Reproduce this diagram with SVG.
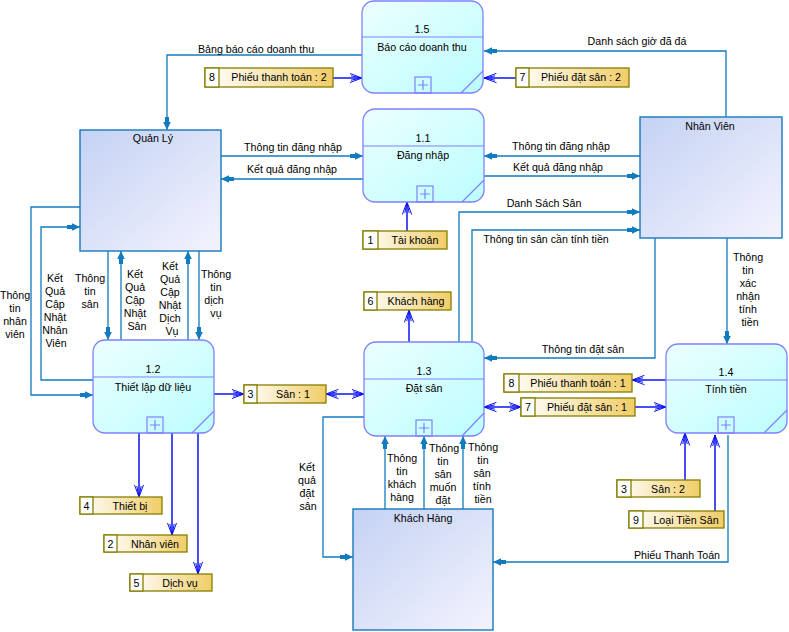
<svg xmlns="http://www.w3.org/2000/svg" width="789" height="632" viewBox="0 0 789 632">
<style>
text{font-family:"Liberation Sans",Arial,sans-serif;font-size:10.67px;fill:#000}
.c{text-anchor:middle}
.proc{fill:url(#pg);stroke:#8080ff;stroke-width:1.3}
.pl{stroke:#8080ff;stroke-width:1.2;fill:none}
.ent{fill:url(#eg);stroke:#1478bc;stroke-width:1.4}
.sto{fill:url(#sg);stroke:#857f00;stroke-width:1.3}
.num{fill:#fff;stroke:#857f00;stroke-width:1.3}
.f{fill:none;stroke:#127bbf;stroke-width:1.3;marker-end:url(#ah)}
.d{fill:none;stroke:#0a14f0;stroke-width:1.5;marker-end:url(#oa)}
.b{marker-start:url(#oa)}
</style>
<defs>
<linearGradient id="pg" x1="0" y1="0" x2="1" y2="1"><stop offset="0" stop-color="#ecffff"/><stop offset="1" stop-color="#bcfdfe"/></linearGradient>
<linearGradient id="eg" x1="0" y1="0" x2="1" y2="1"><stop offset="0" stop-color="#c4d2f4"/><stop offset="1" stop-color="#f3f3fd"/></linearGradient>
<linearGradient id="sg" x1="0" y1="0" x2="1" y2="0"><stop offset="0" stop-color="#ffffff"/><stop offset="1" stop-color="#f1cd68"/></linearGradient>
<marker id="ah" markerUnits="userSpaceOnUse" viewBox="0 0 14 10" markerWidth="14" markerHeight="10" refX="14" refY="5" orient="auto">
<path d="M6,1.2 L14,5 L6,8.8 Z M1,3 H7 V7 H1 Z" fill="#127bbf"/>
</marker>
<marker id="oa" markerUnits="userSpaceOnUse" viewBox="0 0 13 11" markerWidth="13" markerHeight="11" refX="12.5" refY="5.5" orient="auto-start-reverse">
<path d="M0,0.8 L12.5,5.5 L0,10.2 M1.5,3.3 L12.5,5.5 L1.5,7.7" fill="none" stroke="#0a14f0" stroke-width="1"/>
</marker>
</defs>

<g id="connectors">
<g id="c-bangbaocao"><path class="f" d="M362,55 H167 V130"/><text class="c" x="256" y="53">Bảng báo cáo doanh thu</text></g>
<g id="c-danhsachgio"><path class="f" d="M726,117 V51 H484"/><text class="c" x="637" y="45">Danh sách giờ đã đá</text></g>
<g id="c-ttdn-ql"><path class="f" d="M221,156 H363"/><text class="c" x="293" y="151">Thông tin đăng nhập</text></g>
<g id="c-kqdn-ql"><path class="f" d="M363,179 H221"/><text class="c" x="292" y="173">Kết quả đăng nhập</text></g>
<g id="c-ttdn-nv"><path class="f" d="M640,156 H484"/><text class="c" x="561" y="150">Thông tin đăng nhập</text></g>
<g id="c-kqdn-nv"><path class="f" d="M484,176 H640"/><text class="c" x="558" y="171">Kết quả đăng nhập</text></g>
<g id="c-dssan"><path class="f" d="M459,342 V212 H640"/><text class="c" x="544" y="207">Danh Sách Sân</text></g>
<g id="c-ttsantt"><path class="f" d="M472,342 V230 H640"/><text class="c" x="546" y="243">Thông tin sân cần tính tiền</text></g>
<g id="c-ttdatsan"><path class="f" d="M655,238 V358 H484"/><text class="c" x="583" y="353">Thông tin đặt sân</text></g>
<g id="c-ttxn"><path class="f" d="M727,238 V344"/><text class="c" x="748" y="261"><tspan x="748">Thông</tspan><tspan x="748" dy="13">tin</tspan><tspan x="748" dy="13">xác</tspan><tspan x="748" dy="13">nhận</tspan><tspan x="748" dy="13">tính</tspan><tspan x="750" dy="13">tiền</tspan></text></g>
<g id="c-ttnv"><path class="f" d="M80,207 H31 V395 H93"/><text class="c" x="15" y="299"><tspan x="15">Thông</tspan><tspan x="15" dy="13">tin</tspan><tspan x="15" dy="13">nhân</tspan><tspan x="15" dy="13">viên</tspan></text></g>
<g id="c-kqnv"><path class="f" d="M93,380 H41 V227 H80"/><text class="c" x="55" y="282"><tspan x="55">Kết</tspan><tspan x="55" dy="13">Quả</tspan><tspan x="55" dy="13">Cập</tspan><tspan x="55" dy="13">Nhật</tspan><tspan x="55" dy="13">Nhân</tspan><tspan x="56" dy="13">Viên</tspan></text></g>
<g id="c-ttsan"><path class="f" d="M108,251 V340"/><text class="c" x="90" y="282"><tspan x="90">Thông</tspan><tspan x="90" dy="13">tin</tspan><tspan x="90" dy="13">sân</tspan></text></g>
<g id="c-kqsan"><path class="f" d="M121,340 V251"/><text class="c" x="135" y="278"><tspan x="135">Kết</tspan><tspan x="135" dy="13">Quả</tspan><tspan x="135" dy="13">Cập</tspan><tspan x="135" dy="13">Nhật</tspan><tspan x="137" dy="13">Sân</tspan></text></g>
<g id="c-kqdv"><path class="f" d="M188,340 V251"/><text class="c" x="170" y="270"><tspan x="170">Kết</tspan><tspan x="170" dy="13">Quả</tspan><tspan x="170" dy="13">Cập</tspan><tspan x="170" dy="13">Nhật</tspan><tspan x="170" dy="13">Dịch</tspan><tspan x="172" dy="13">Vụ</tspan></text></g>
<g id="c-ttdv"><path class="f" d="M199,251 V340"/><text class="c" x="216" y="278"><tspan x="216">Thông</tspan><tspan x="216" dy="13">tin</tspan><tspan x="214" dy="13">dịch</tspan><tspan x="216" dy="13">vụ</tspan></text></g>
<g id="c-kqdatsan"><path class="f" d="M364,417 H323 V557 H353"/><text class="c" x="307" y="471"><tspan x="307">Kết</tspan><tspan x="307" dy="13">quả</tspan><tspan x="307" dy="13">đặt</tspan><tspan x="308" dy="13">sân</tspan></text></g>
<g id="c-ttkh"><path class="f" d="M385,509 V436"/><text class="c" x="402" y="462"><tspan x="402">Thông</tspan><tspan x="402" dy="13">tin</tspan><tspan x="402" dy="13">khách</tspan><tspan x="402" dy="13">hàng</tspan></text></g>
<g id="c-ttsmd"><path class="f" d="M424,509 V436"/><text class="c" x="444" y="452"><tspan x="444">Thông</tspan><tspan x="443" dy="13">tin</tspan><tspan x="443" dy="13">sân</tspan><tspan x="443" dy="13">muốn</tspan><tspan x="443" dy="13">đặt</tspan></text></g>
<g id="c-ttstt"><path class="f" d="M463,509 V436"/><text class="c" x="483" y="451"><tspan x="483">Thông</tspan><tspan x="483" dy="13">tin</tspan><tspan x="482" dy="13">sân</tspan><tspan x="482" dy="13">tính</tspan><tspan x="483" dy="13">tiền</tspan></text></g>
<g id="c-phieutt"><path class="f" d="M728,435 V562 H493"/><text class="c" x="677" y="559">Phiếu Thanh Toán</text></g>

<path class="d" d="M333,78 H362"/>
<path class="d" d="M516,78 H484"/>
<path class="d" d="M407,231 V202"/>
<path class="d" d="M409,342 V310"/>
<path class="d" d="M214,394 H244"/>
<path class="d b" d="M326,394 H364"/>
<path class="d b" d="M484,407 H521"/>
<path class="d" d="M635,407 H666"/>
<path class="d" d="M666,380 H632"/>
<path class="d" d="M139,433 V497"/>
<path class="d" d="M172,433 V535"/>
<path class="d" d="M198,433 V574"/>
<path class="d" d="M685,480 V433"/>
<path class="d" d="M715,511 V435"/>
</g>

<g id="p1-5"><rect class="proc" x="362" y="1" width="121" height="92" rx="12"/><path class="pl" d="M362,37 H483 M483,71 L461,93"/><rect class="pl" x="415" y="77" width="16" height="16"/><path class="pl" d="M418,85 H428 M423,80 V90"/><text class="c" x="422" y="33">1.5</text><text class="c" x="422" y="51">Báo cáo doanh thu</text></g>
<g id="p1-1"><rect class="proc" x="363" y="109" width="121" height="93" rx="12"/><path class="pl" d="M363,146 H484 M484,180 L462,202"/><rect class="pl" x="417" y="186" width="16" height="16"/><path class="pl" d="M420,194 H430 M425,189 V199"/><text class="c" x="423" y="142">1.1</text><text class="c" x="423" y="159">Đăng nhập</text></g>
<g id="p1-2"><rect class="proc" x="93" y="340" width="121" height="93" rx="12"/><path class="pl" d="M93,377 H214 M214,411 L192,433"/><rect class="pl" x="147" y="417" width="16" height="16"/><path class="pl" d="M150,425 H160 M155,420 V430"/><text class="c" x="153" y="373">1.2</text><text class="c" x="153" y="391">Thiết lập dữ liệu</text></g>
<g id="p1-3"><rect class="proc" x="364" y="342" width="120" height="94" rx="12"/><path class="pl" d="M364,379 H484 M484,413 L462,436"/><rect class="pl" x="416" y="420" width="16" height="16"/><path class="pl" d="M419,428 H429 M424,423 V433"/><text class="c" x="424" y="375">1.3</text><text class="c" x="424" y="392">Đặt sân</text></g>
<g id="p1-4"><rect class="proc" x="666" y="344" width="121" height="89" rx="12"/><path class="pl" d="M666,380 H787 M787,410 L764,433"/><rect class="pl" x="718" y="417" width="16" height="16"/><path class="pl" d="M721,425 H731 M726,420 V430"/><text class="c" x="726" y="376">1.4</text><text class="c" x="726" y="393">Tính tiền</text></g>

<g id="e-quanly"><rect class="ent" x="80" y="130" width="141" height="121"/><text class="c" x="153" y="142">Quản Lý</text></g>
<g id="e-nhanvien"><rect class="ent" x="640" y="117" width="142" height="121"/><text class="c" x="710" y="130">Nhân Viên</text></g>
<g id="e-khachhang"><rect class="ent" x="353" y="509" width="140" height="121"/><text class="c" x="423" y="522">Khách Hàng</text></g>

<g id="s8a"><rect class="sto" x="205" y="68" width="128" height="19"/><rect class="num" x="205" y="68" width="14" height="19"/><text class="c" x="212" y="81">8</text><text class="c" x="279" y="81">Phiếu thanh toán : 2</text></g>
<g id="s7a"><rect class="sto" x="516" y="68" width="113" height="19"/><rect class="num" x="516" y="68" width="13" height="19"/><text class="c" x="522.5" y="81">7</text><text class="c" x="581" y="81">Phiếu đặt sân : 2</text></g>
<g id="s1"><rect class="sto" x="363" y="231" width="84" height="18"/><rect class="num" x="363" y="231" width="15" height="18"/><text class="c" x="370.5" y="244">1</text><text class="c" x="415" y="244">Tài khoản</text></g>
<g id="s6"><rect class="sto" x="364" y="292" width="87" height="18"/><rect class="num" x="364" y="292" width="13" height="18"/><text class="c" x="370.5" y="305">6</text><text class="c" x="416" y="305">Khách hàng</text></g>
<g id="s3a"><rect class="sto" x="244" y="385" width="82" height="18"/><rect class="num" x="244" y="385" width="13" height="18"/><text class="c" x="250.5" y="398">3</text><text class="c" x="293" y="398">Sân : 1</text></g>
<g id="s8b"><rect class="sto" x="504" y="374" width="128" height="18"/><rect class="num" x="504" y="374" width="15" height="18"/><text class="c" x="511.5" y="387">8</text><text class="c" x="578" y="387">Phiếu thanh toán : 1</text></g>
<g id="s7b"><rect class="sto" x="521" y="398" width="114" height="18"/><rect class="num" x="521" y="398" width="14" height="18"/><text class="c" x="528" y="411">7</text><text class="c" x="587" y="411">Phiếu đặt sân : 1</text></g>
<g id="s3b"><rect class="sto" x="617" y="480" width="83" height="17"/><rect class="num" x="617" y="480" width="14" height="17"/><text class="c" x="624" y="493">3</text><text class="c" x="668" y="493">Sân : 2</text></g>
<g id="s9"><rect class="sto" x="629" y="511" width="95" height="17"/><rect class="num" x="629" y="511" width="14" height="17"/><text class="c" x="636" y="524">9</text><text class="c" x="686" y="524">Loại Tiền Sân</text></g>
<g id="s4"><rect class="sto" x="80" y="497" width="82" height="17"/><rect class="num" x="80" y="497" width="13" height="17"/><text class="c" x="86.5" y="510">4</text><text class="c" x="130" y="510">Thiết bị</text></g>
<g id="s2"><rect class="sto" x="104" y="535" width="83" height="17"/><rect class="num" x="104" y="535" width="13" height="17"/><text class="c" x="110.5" y="548">2</text><text class="c" x="155" y="548">Nhân viên</text></g>
<g id="s5"><rect class="sto" x="130" y="574" width="82" height="17"/><rect class="num" x="130" y="574" width="13" height="17"/><text class="c" x="136.5" y="587">5</text><text class="c" x="180" y="587">Dịch vụ</text></g>
</svg>
